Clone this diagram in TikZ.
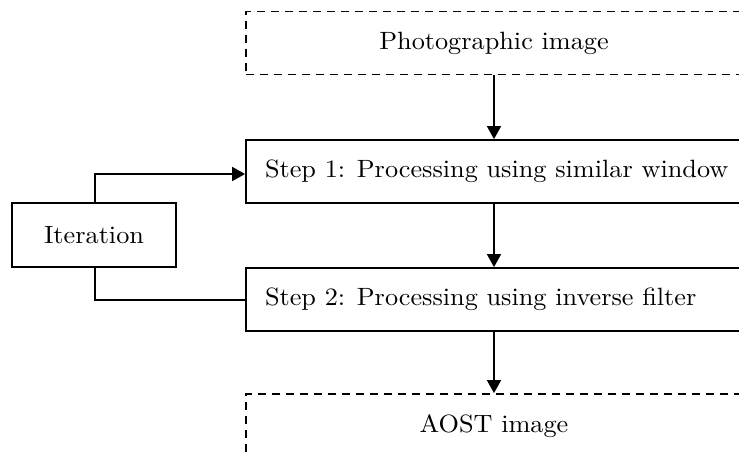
\documentclass[tikz,border=0pt]{standalone}
\usepackage{fontspec}
\setmainfont{lmroman10-regular}[Extension=.otf, FakeStretch=1.05]
\usetikzlibrary{arrows.meta}
\newcommand{\steptext}[1]{\makebox[458pt][l]{#1}}
\begin{document}
\begin{tikzpicture}[x=1pt,y=-1pt,
  every node/.style={font=\fontsize{25}{29}\selectfont},
  boxline/.style={draw, line width=1.8pt, minimum width=496pt, minimum height=63pt, inner sep=0pt},
  dashbox/.style={boxline, dash pattern=on 8pt off 6pt},
  stepbox/.style={boxline, inner xsep=19pt},
  itbox/.style={draw, line width=1.8pt, minimum width=164pt, minimum height=64pt, inner sep=0pt},
  conn/.style={line width=1.8pt},
  arr/.style={conn, -{Triangle[width=14pt,length=13pt]}}]
\useasboundingbox (0,0) rectangle (739,456);
\clip (0,0) rectangle (739,456);
\node[dashbox] (photo) at (494,43) {Photographic image};
\node[stepbox] (s1) at (494,171.5) {\steptext{Step 1: Processing using similar window}};
\node[stepbox] (s2) at (494,299.5) {\steptext{Step 2: Processing using inverse filter}};
\node[dashbox, minimum height=64pt] (aost) at (494,426) {AOST image};
\node[itbox] (it) at (94,235) {Iteration};
\coordinate (c1) at (95,174);
\coordinate (c2) at (95,300);
\draw[arr] (photo.south) -- (s1.north);
\draw[arr] (s1.south) -- (s2.north);
\draw[arr] (s2.south) -- (aost.north);
\draw[arr] (c1 |- it.north) -- (c1) -- (s1.west |- c1);
\draw[conn] (c2 |- it.south) -- (c2) -- (s2.west |- c2);
\end{tikzpicture}
\end{document}
